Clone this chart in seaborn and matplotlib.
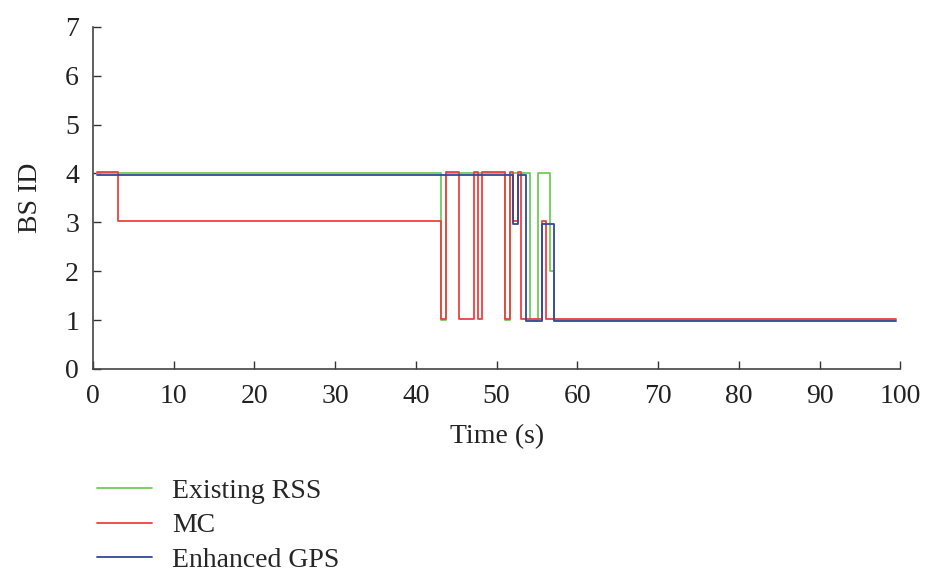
import numpy as np
import pandas as pd
import matplotlib
matplotlib.use("Agg")
import matplotlib.pyplot as plt
import seaborn as sns

# Base-station ID over time for each handover scheme (change points, steps-post)
rss_time = [0.5, 43.15, 43.7, 51.05, 51.6, 54.1, 55.1, 56.6, 57.1, 99.5]
rss_bs = [4, 1, 4, 1, 4, 1, 4, 2, 1, 1]

mc_time = [0.5, 3.1, 43.15, 43.7, 45.3, 47.2, 47.7, 48.2, 51.05, 51.6,
           52.0, 52.7, 53.0, 55.6, 56.15, 99.5]
mc_bs = [4, 3, 1, 4, 1, 4, 1, 4, 1, 4, 3, 4, 1, 3, 1, 1]

gps_time = [0.5, 52.0, 52.7, 53.6, 55.6, 57.1, 99.5]
gps_bs = [4, 3, 4, 1, 3, 1, 1]

series_names = ["Existing RSS", "MC", "Enhanced GPS"]
x_ticks = [0, 10, 20, 30, 40, 50, 60, 70, 80, 90, 100]
y_ticks = [0, 1, 2, 3, 4, 5, 6, 7]

colors = {"Existing RSS": "#6fcb55", "MC": "#ef3f3f", "Enhanced GPS": "#34479a"}
# small vertical nudge so overlapping traces stay visible
nudge = {"Existing RSS": 0.0, "MC": 0.03, "Enhanced GPS": -0.025}

frames = []
for name, t, v in zip(series_names, [rss_time, mc_time, gps_time],
                      [rss_bs, mc_bs, gps_bs]):
    frames.append(pd.DataFrame({"Time": t, "BS": np.array(v, float) + nudge[name],
                                "Scheme": name}))
df = pd.concat(frames, ignore_index=True)

sns.set_theme(style="ticks")
plt.rcParams["font.family"] = ["Liberation Serif", "DejaVu Serif"]

FS = 20
fig = plt.figure(figsize=(9.3, 5.71), dpi=100)
ax = fig.add_axes([0.1, 0.354, 0.868, 0.599])

for name in series_names:
    sub = df[df["Scheme"] == name]
    sns.lineplot(data=sub, x="Time", y="BS", ax=ax, color=colors[name],
                 drawstyle="steps-post", linewidth=1.3, sort=False,
                 estimator=None, label=name, legend=False)

ax.set_xlim(0, 100)
ax.set_ylim(0, 7)
ax.set_xticks(x_ticks)
ax.set_yticks(y_ticks)
ax.tick_params(direction="in", length=6, width=1.0, colors="#333333",
               labelsize=FS, labelcolor="#222222")
ax.tick_params(axis="x", pad=11)
ax.tick_params(axis="y", pad=10)
for side in ["top", "right"]:
    ax.spines[side].set_visible(False)
for side in ["left", "bottom"]:
    ax.spines[side].set_color("#444444")
    ax.spines[side].set_linewidth(1.2)

ax.set_xlabel("Time (s)", fontsize=FS, color="#222222", labelpad=11)
ax.set_ylabel("BS ID", fontsize=FS, color="#222222", labelpad=16)

handles, labels = ax.get_legend_handles_labels()
fig.legend(handles, labels, loc="upper left", bbox_to_anchor=(0.104, 0.162),
           frameon=False, fontsize=FS, handlelength=1.98, handletextpad=0.72,
           labelspacing=0.32, borderpad=0, borderaxespad=0)

fig.savefig("out.png", dpi=100)
